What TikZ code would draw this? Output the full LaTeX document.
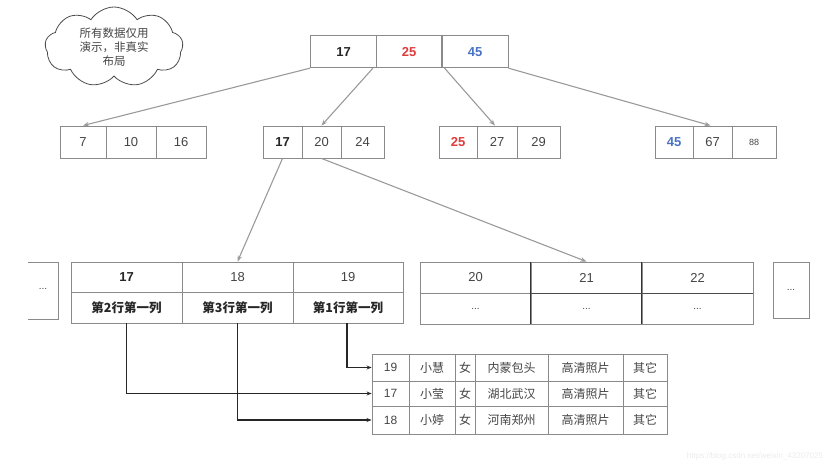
\documentclass[tikz,border=0pt]{standalone}
\usepackage{fontspec}
\setmainfont{Liberation Sans}
\newfontfamily\cjk{Noto Sans CJK SC}
\usetikzlibrary{shapes.symbols,arrows.meta,calc}
\definecolor{boxgray}{HTML}{8A8A8A}
\definecolor{linegray}{HTML}{9A9A9A}
\definecolor{txt}{HTML}{444444}
\definecolor{kred}{HTML}{E03A3A}
\definecolor{kblue}{HTML}{4A72C4}
\tikzset{
  cell/.style={draw=boxgray, line width=0.9pt, inner sep=0pt, text=txt, font=\fontsize{13}{15}\selectfont, minimum height=32pt},
  dcell/.style={draw=boxgray, line width=0.9pt, inner sep=0pt, text=txt, font=\cjk\fontsize{12}{14}\selectfont},
  treearrow/.style={draw=linegray, line width=1.1pt, -{Stealth[length=6pt,width=4.5pt]}},
  ptrarrow/.style={draw=black!85, line width=1.2pt, -{Stealth[length=5pt,width=4pt]}},
  dots/.style={text=txt, font=\fontsize{10}{11}\selectfont, inner sep=0pt},
}
\begin{document}
\begin{tikzpicture}[x=1pt,y=-1pt]
\useasboundingbox (0,0) rectangle (837,465);
% cloud
\node[cloud, cloud puffs=9, cloud puff arc=115, aspect=1.7, draw=black!70, line width=0.8pt,
      minimum width=138pt, minimum height=80pt, inner sep=0pt, align=center,
      font=\cjk\fontsize{11.5}{14}\selectfont, text=txt] (cloud) at (114,47)
      {所有数据仅用\\演示，非真实\\布局};
% root
\node[cell, minimum width=66pt, font=\bfseries\fontsize{13}{15}\selectfont, text=black!85] (r1) at (343.5,51.7) {17};
\node[cell, minimum width=65pt, font=\bfseries\fontsize{13}{15}\selectfont, text=kred] (r2) at (409,51.7) {25};
\node[cell, minimum width=66pt, font=\bfseries\fontsize{13}{15}\selectfont, text=kblue] (r3) at (475,51.7) {45};
% level 2
\node[cell, minimum width=46pt] (a1) at (83,142) {7};
\node[cell, minimum width=50pt] (a2) at (131,142) {10};
\node[cell, minimum width=50pt] (a3) at (181,142) {16};
\node[cell, minimum width=39pt, font=\bfseries\fontsize{13}{15}\selectfont, text=black!85] (b1) at (282.5,142) {17};
\node[cell, minimum width=39pt] (b2) at (321.5,142) {20};
\node[cell, minimum width=43pt] (b3) at (362.5,142) {24};
\node[cell, minimum width=38pt, font=\bfseries\fontsize{13}{15}\selectfont, text=kred] (c1) at (458,142) {25};
\node[cell, minimum width=40pt] (c2) at (497,142) {27};
\node[cell, minimum width=43pt] (c3) at (538.5,142) {29};
\node[cell, minimum width=38pt, font=\bfseries\fontsize{13}{15}\selectfont, text=kblue] (d1) at (674,142) {45};
\node[cell, minimum width=39pt] (d2) at (712.5,142) {67};
\node[cell, minimum width=44pt, font=\fontsize{9}{10}\selectfont] (d3) at (754,142) {88};
% tree arrows
\draw[treearrow] (r1.south west) -- (a1.north);
\draw[treearrow] ($(r1.south east)+(-4,0)$) -- (b2.north);
\draw[treearrow] ($(r3.south west)+(3,0)$) -- ($(c2.north)-(2,0)$);
\draw[treearrow] (r3.south east) -- ($(d2.north)-(2,0)$);
% leaf ellipsis left (open on the left)
\coordinate (lo1) at (28,262);
\coordinate (lo2) at (58,319);
\draw[boxgray, line width=0.9pt] (lo1) -| (lo2) -- (lo2 -| lo1);
\node[dots] (ldots) at (43,289) {...};
% table 1
\node[cell, minimum width=111pt, minimum height=30pt, font=\bfseries\fontsize{13}{15}\selectfont, text=black!85] (t1a) at (126.5,277) {17};
\node[cell, minimum width=111pt, minimum height=30pt] (t1b) at (237.5,277) {18};
\node[cell, minimum width=110pt, minimum height=30pt] (t1c) at (348,277) {19};
\node[cell, minimum width=111pt, minimum height=31pt, font=\cjk\bfseries\fontsize{12.5}{15}\selectfont, text=black!85] (l1a) at (126.5,307.5) {第2行第一列};
\node[cell, minimum width=111pt, minimum height=31pt, font=\cjk\bfseries\fontsize{12.5}{15}\selectfont, text=black!85] (l1b) at (237.5,307.5) {第3行第一列};
\node[cell, minimum width=110pt, minimum height=31pt, font=\cjk\bfseries\fontsize{12.5}{15}\selectfont, text=black!85] (l1c) at (348,307.5) {第1行第一列};
% table 2
\node[cell, minimum width=111pt, minimum height=31pt] (t2a) at (475.5,277.5) {20};
\node[cell, minimum width=111pt, minimum height=31pt] (t2b) at (586.5,277.5) {21};
\node[cell, minimum width=111pt, minimum height=31pt] (t2c) at (697.5,277.5) {22};
\node[cell, minimum width=111pt, minimum height=31pt, font=\fontsize{10}{11}\selectfont] (l2a) at (475.5,308.5) {...};
\node[cell, minimum width=111pt, minimum height=31pt, font=\fontsize{10}{11}\selectfont] (l2b) at (586.5,308.5) {...};
\node[cell, minimum width=111pt, minimum height=31pt, font=\fontsize{10}{11}\selectfont] (l2c) at (697.5,308.5) {...};
\draw[black!80, line width=1pt] (t2b.north west) -- (l2b.south west);
\draw[black!80, line width=1pt] (t2c.north west) -- (l2c.south west);
\draw[black!70, line width=1pt] (t2b.south west) -- (t2c.south east);
% right ellipsis
\node[cell, minimum width=36pt, minimum height=56pt, font=\fontsize{10}{11}\selectfont] (rdots) at (791,290) {...};
% arrows to leaves
\draw[treearrow] (b1.south) -- (t1b.north);
\draw[treearrow] (b2.south) -- (t2b.north);
% data table
\node[dcell, minimum width=37pt, minimum height=27pt, font=\fontsize{12}{14}\selectfont] (e1a) at (390.5,367.5) {19};
\node[dcell, minimum width=46pt, minimum height=27pt] (e1b) at (432,367.5) {小慧};
\node[dcell, minimum width=20pt, minimum height=27pt] (e1c) at (465,367.5) {女};
\node[dcell, minimum width=73pt, minimum height=27pt] (e1d) at (511.5,367.5) {内蒙包头};
\node[dcell, minimum width=75pt, minimum height=27pt] (e1e) at (585.5,367.5) {高清照片};
\node[dcell, minimum width=44pt, minimum height=27pt] (e1f) at (645,367.5) {其它};
\node[dcell, minimum width=37pt, minimum height=25pt, font=\fontsize{12}{14}\selectfont] (e2a) at (390.5,393.5) {17};
\node[dcell, minimum width=46pt, minimum height=25pt] (e2b) at (432,393.5) {小莹};
\node[dcell, minimum width=20pt, minimum height=25pt] (e2c) at (465,393.5) {女};
\node[dcell, minimum width=73pt, minimum height=25pt] (e2d) at (511.5,393.5) {湖北武汉};
\node[dcell, minimum width=75pt, minimum height=25pt] (e2e) at (585.5,393.5) {高清照片};
\node[dcell, minimum width=44pt, minimum height=25pt] (e2f) at (645,393.5) {其它};
\node[dcell, minimum width=37pt, minimum height=28pt, font=\fontsize{12}{14}\selectfont] (e3a) at (390.5,420) {18};
\node[dcell, minimum width=46pt, minimum height=28pt] (e3b) at (432,420) {小婷};
\node[dcell, minimum width=20pt, minimum height=28pt] (e3c) at (465,420) {女};
\node[dcell, minimum width=73pt, minimum height=28pt] (e3d) at (511.5,420) {河南郑州};
\node[dcell, minimum width=75pt, minimum height=28pt] (e3e) at (585.5,420) {高清照片};
\node[dcell, minimum width=44pt, minimum height=28pt] (e3f) at (645,420) {其它};
% pointer arrows
\draw[ptrarrow] (l1a.south) |- (e2a.west);
\draw[ptrarrow] (l1b.south) |- (e3a.west);
\draw[ptrarrow] ($(l1c.south)+(-1,0)$) |- (e1a.west);
% watermark
\node[text=black!8, font=\fontsize{8}{9}\selectfont, inner sep=0pt] (wm) at (755,456) {https://blog.csdn.net/weixin\_43207025};
\end{tikzpicture}
\end{document}
